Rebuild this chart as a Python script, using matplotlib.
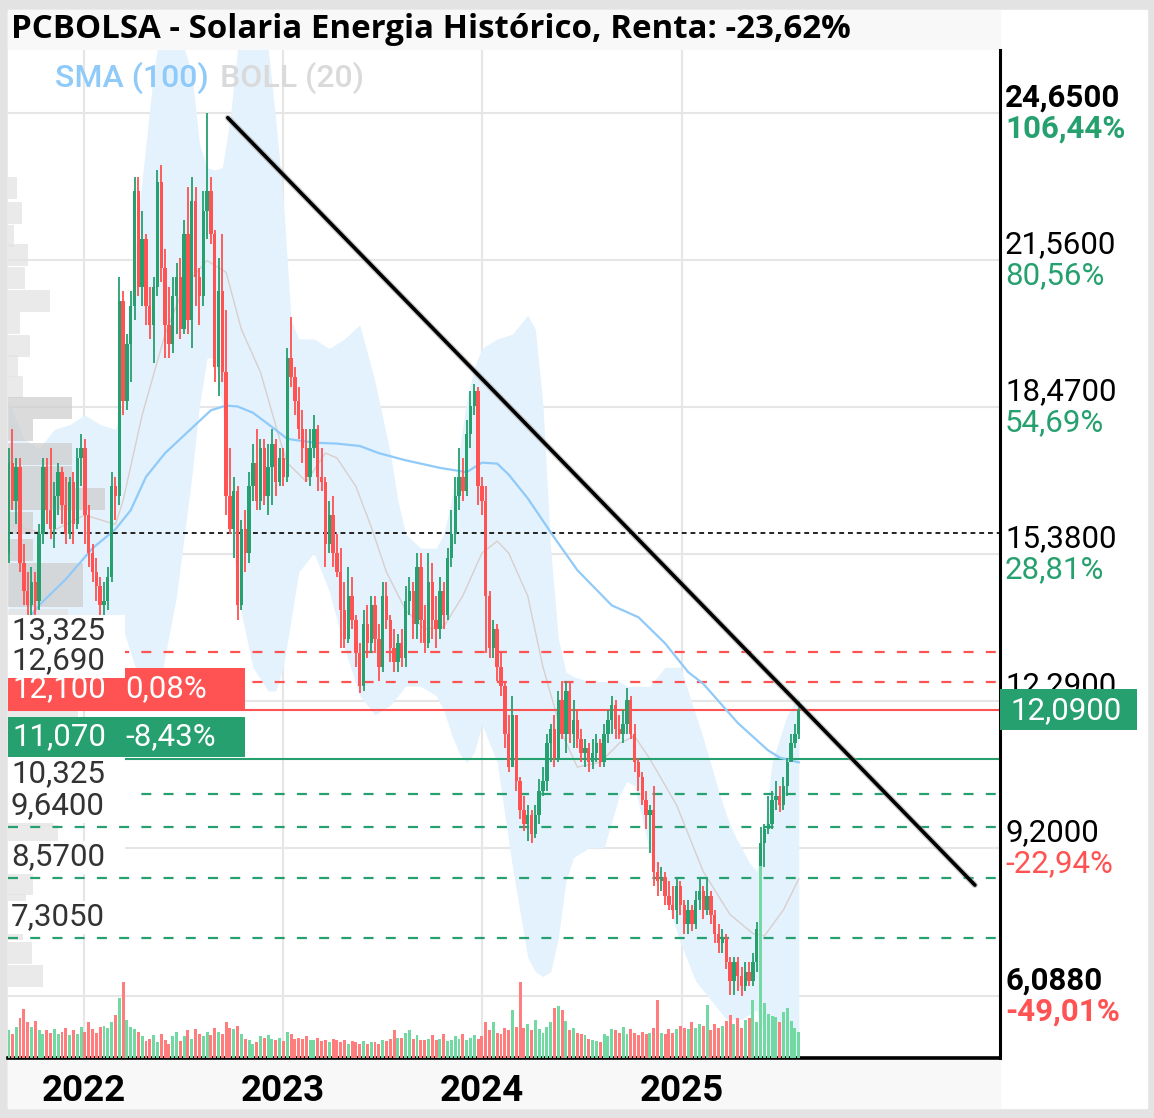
import matplotlib
matplotlib.use("Agg")
import matplotlib.pyplot as plt
import matplotlib.dates as mdates
from matplotlib.patches import Rectangle
import pandas as pd

W, H, DPI = 1154, 1118, 100

GREEN = "#26a06f"
RED = "#ff5252"
VOL_GREEN = "#72d9a2"
VOL_RED = "#ff7d7d"
BAND_BLUE = "#e3f2fd"
SMA_BLUE = "#90caf9"
MID_GREY = "#d9cfcc"
GRID = "#e6e6e6"

TITLE = "PCBOLSA - Solaria Energia Histórico, Renta: -23,62%"
FIRST_WEEK = "2021-08-16"

# weekly OHLC, Aug 2021 .. Aug 2025
opens = [
    15.4, 17.3, 16.5, 17.2, 15.2, 14.6, 14.3, 14.8, 14.4, 15.8,
    17.2, 16.3, 15.9, 16.6, 17.1, 16.4, 15.8, 16.9, 16.0, 17.4,
    17.6, 16.2, 15.4, 15.0, 14.7, 14.3, 14.4, 14.9, 16.8, 16.6,
    20.7, 18.6, 19.8, 20.6, 23.0, 21.0, 22.0, 20.6, 20.2, 21.0,
    23.2, 21.4, 20.2, 19.8, 20.8, 21.2, 20.1, 22.1, 20.3, 22.8,
    21.2, 20.8, 22.6, 23.0, 22.1, 19.3, 20.9, 19.2, 16.6, 15.9,
    16.7, 14.3, 15.9, 15.4, 16.8, 17.3, 16.5, 17.6, 16.6, 17.2,
    17.7, 16.9, 17.4, 17.0, 19.5, 19.1, 18.6, 18.0, 17.6, 17.0,
    17.6, 18.0, 17.0, 16.9, 15.6, 16.2, 15.4, 15.0, 14.2, 13.6,
    14.5, 14.0, 13.3, 12.6, 13.9, 13.5, 14.3, 13.6, 13.0, 14.5,
    14.0, 13.4, 13.1, 13.5, 13.2, 14.4, 14.6, 13.9, 15.1, 14.0,
    13.5, 14.8, 14.0, 13.8, 14.6, 14.1, 15.3, 15.8, 16.6, 17.0,
    16.7, 17.9, 18.5, 18.8, 16.8, 16.5, 14.5, 13.4, 13.8, 13.0,
    12.6, 11.6, 10.9, 12.0, 10.6, 10.0, 9.7, 9.9, 9.5, 9.9,
    10.4, 10.6, 11.4, 11.7, 11.1, 12.3, 11.6, 12.5, 11.6, 11.9,
    11.5, 11.2, 11.3, 11.0, 11.2, 11.4, 11.0, 11.6, 11.9, 12.2,
    11.7, 11.6, 11.8, 12.3, 11.6, 11.0, 10.7, 10.2, 9.9, 10.0,
    8.7, 8.5, 8.6, 8.2, 8.0, 7.9, 8.4, 8.0, 7.6, 7.9,
    7.6, 8.1, 8.3, 7.9, 8.2, 7.8, 7.4, 7.2, 7.3, 6.8,
    6.4, 6.8, 6.5, 6.3, 6.6, 6.4, 6.8, 7.5, 9.3, 9.6,
    9.7, 10.2, 10.3, 10.1, 10.5, 11.0, 11.4, 11.6,
]
highs = [
    17.6, 18.0, 17.4, 17.4, 15.6, 15.0, 15.1, 15.0, 16.0, 17.4,
    17.4, 17.6, 16.9, 17.3, 17.2, 17.0, 17.0, 17.1, 17.6, 17.9,
    17.8, 16.4, 15.6, 15.3, 14.9, 14.8, 15.1, 17.1, 17.0, 21.2,
    20.9, 20.0, 20.9, 23.3, 23.3, 22.6, 22.1, 21.0, 21.2, 23.45,
    23.56, 21.8, 21.0, 21.2, 21.5, 21.6, 22.4, 23.1, 23.3, 23.1,
    21.4, 23.0, 24.65, 23.3, 22.2, 21.6, 22.1, 20.5, 17.6, 17.0,
    16.8, 16.1, 16.3, 17.1, 17.7, 18.0, 17.8, 17.8, 17.7, 18.0,
    17.8, 17.6, 17.6, 19.7, 20.36, 19.3, 18.9, 18.4, 18.0, 18.0,
    18.3, 18.1, 17.6, 17.0, 16.5, 16.6, 15.8, 15.5, 14.8, 15.1,
    14.9, 14.1, 13.5, 14.2, 14.3, 14.5, 14.5, 13.9, 14.8, 14.8,
    14.1, 13.8, 13.7, 13.8, 14.7, 14.9, 14.8, 15.4, 15.4, 14.3,
    15.4, 15.2, 14.5, 14.9, 14.8, 15.5, 16.3, 17.0, 17.6, 17.4,
    18.2, 18.8, 18.95, 18.9, 17.0, 16.8, 14.6, 14.0, 13.9, 13.3,
    12.7, 12.0, 12.4, 12.0, 10.7, 10.3, 10.1, 10.0, 10.1, 10.65,
    10.9, 11.6, 11.8, 12.0, 12.5, 12.7, 12.7, 12.7, 12.3, 12.1,
    11.7, 11.5, 11.4, 11.5, 11.6, 11.5, 11.8, 12.1, 12.4, 12.3,
    12.0, 12.1, 12.56, 12.4, 11.8, 11.1, 10.8, 10.4, 10.1, 10.5,
    8.9, 8.8, 8.7, 8.5, 8.4, 8.6, 8.5, 8.1, 8.1, 8.0,
    8.3, 8.6, 8.4, 8.6, 8.3, 7.9, 7.6, 7.5, 7.4, 6.9,
    6.9, 6.9, 6.7, 6.8, 6.8, 7.0, 7.65, 9.64, 9.7, 10.3,
    10.4, 10.6, 10.5, 10.7, 11.1, 11.6, 11.8, 12.29,
]
lows = [
    15.2, 16.3, 16.0, 15.0, 14.3, 14.1, 14.1, 14.1, 14.2, 15.6,
    16.0, 15.7, 15.5, 16.2, 16.0, 15.6, 15.7, 15.6, 15.9, 16.8,
    15.6, 15.1, 14.8, 14.4, 14.1, 14.0, 14.2, 14.8, 16.1, 16.4,
    18.3, 18.4, 19.0, 20.3, 20.8, 20.6, 20.2, 19.9, 19.4, 20.8,
    21.1, 19.5, 19.5, 19.6, 20.0, 19.9, 20.0, 20.0, 19.7, 20.6,
    20.2, 20.6, 22.0, 21.9, 19.0, 18.7, 19.0, 16.2, 15.8, 15.3,
    14.0, 14.2, 15.0, 15.2, 16.5, 16.3, 16.3, 16.4, 16.2, 16.4,
    16.6, 16.8, 16.8, 16.9, 18.9, 18.3, 17.8, 17.3, 16.9, 16.8,
    17.4, 16.7, 16.7, 15.1, 15.4, 15.1, 14.9, 13.4, 13.4, 13.5,
    13.8, 13.0, 12.45, 12.5, 13.2, 13.3, 13.3, 12.7, 12.9, 13.8,
    13.1, 12.9, 12.9, 13.0, 13.0, 14.1, 13.6, 13.6, 13.5, 13.3,
    13.4, 13.6, 13.4, 13.6, 13.8, 14.0, 15.1, 15.6, 16.3, 16.5,
    16.6, 17.6, 18.3, 16.4, 16.2, 13.3, 13.2, 13.2, 12.7, 12.4,
    11.3, 10.8, 10.9, 10.4, 9.8, 9.55, 9.35, 9.3, 9.4, 9.7,
    10.3, 10.4, 11.0, 10.9, 11.0, 11.5, 11.2, 11.4, 11.3, 11.3,
    11.0, 10.9, 10.8, 10.85, 11.0, 10.9, 10.9, 11.4, 11.6, 11.5,
    11.5, 11.4, 11.6, 11.5, 10.8, 10.4, 10.1, 9.6, 9.1, 8.4,
    8.2, 8.3, 8.0, 7.9, 7.7, 7.6, 7.8, 7.4, 7.4, 7.45,
    7.5, 7.9, 7.7, 7.8, 7.6, 7.2, 7.0, 7.0, 6.65, 6.1,
    6.1, 6.2, 6.09, 6.2, 6.3, 6.3, 6.6, 7.3, 8.8, 9.5,
    9.6, 10.0, 9.95, 10.0, 10.3, 11.0, 11.3, 11.5,
]
closes = [
    17.3, 16.5, 17.2, 15.2, 14.6, 14.3, 14.8, 14.4, 15.8, 17.2,
    16.3, 15.9, 16.6, 17.1, 16.4, 15.8, 16.9, 16.0, 17.4, 17.6,
    16.2, 15.4, 15.0, 14.7, 14.3, 14.4, 14.9, 16.8, 16.6, 20.7,
    18.6, 19.8, 20.6, 23.0, 21.0, 22.0, 20.6, 20.2, 21.0, 23.2,
    21.4, 20.2, 19.8, 20.8, 21.2, 20.1, 22.1, 20.3, 22.8, 21.2,
    20.8, 22.6, 23.0, 22.1, 19.3, 20.9, 19.2, 16.6, 15.9, 16.7,
    14.3, 15.9, 15.4, 16.8, 17.3, 16.5, 17.6, 16.6, 17.2, 17.7,
    16.9, 17.4, 17.0, 19.5, 19.1, 18.6, 18.0, 17.6, 17.0, 17.6,
    18.0, 17.0, 16.9, 15.6, 16.2, 15.4, 15.0, 14.2, 13.6, 14.5,
    14.0, 13.3, 12.6, 13.9, 13.5, 14.3, 13.6, 13.0, 14.5, 14.0,
    13.4, 13.1, 13.5, 13.2, 14.4, 14.6, 13.9, 15.1, 14.0, 13.5,
    14.8, 14.0, 13.8, 14.6, 14.1, 15.3, 15.8, 16.6, 17.0, 16.7,
    17.9, 18.5, 18.8, 16.8, 16.5, 14.5, 13.4, 13.8, 13.0, 12.6,
    11.6, 10.9, 12.0, 10.6, 10.0, 9.7, 9.9, 9.5, 9.9, 10.4,
    10.6, 11.4, 11.7, 11.1, 12.3, 11.6, 12.5, 11.6, 11.9, 11.5,
    11.2, 11.3, 11.0, 11.2, 11.4, 11.0, 11.6, 11.9, 12.2, 11.7,
    11.6, 11.8, 12.3, 11.6, 11.0, 10.7, 10.2, 9.9, 10.0, 8.7,
    8.5, 8.6, 8.2, 8.0, 7.9, 8.4, 8.0, 7.6, 7.9, 7.6,
    8.1, 8.3, 7.9, 8.2, 7.8, 7.4, 7.2, 7.3, 6.8, 6.4,
    6.8, 6.5, 6.3, 6.6, 6.4, 6.8, 7.5, 9.3, 9.6, 9.7,
    10.2, 10.3, 10.1, 10.5, 11.0, 11.4, 11.6, 12.09,
]
volumes = [
    2.3, 2.0, 2.6, 3.3, 4.1, 3.0, 2.6, 3.1, 2.3, 2.0, 2.3, 2.1, 2.4,
    2.0, 2.2, 2.5, 1.9, 2.3, 2.0, 2.6, 2.2, 3.0, 2.4, 2.1, 2.6, 2.7,
    2.5, 3.0, 3.6, 5.0, 6.3, 3.2, 2.6, 2.4, 2.2, 1.8, 1.4, 1.6, 1.9,
    1.3, 2.0, 1.5, 1.2, 1.8, 2.2, 1.4, 1.8, 2.3, 1.6, 2.4, 2.0, 1.8,
    2.2, 1.9, 2.5, 2.2, 2.0, 3.0, 2.5, 2.4, 2.7, 2.0, 1.6, 1.5, 1.2,
    1.3, 1.8, 1.7, 1.9, 1.6, 1.5, 1.7, 1.4, 2.2, 2.0, 1.6, 1.7, 1.6,
    1.8, 1.5, 1.5, 1.7, 1.4, 1.5, 1.3, 1.6, 1.5, 1.3, 1.5, 1.2, 1.4,
    1.3, 1.2, 1.4, 1.2, 1.3, 1.3, 1.2, 1.5, 1.4, 1.6, 2.3, 1.7, 1.7,
    2.1, 2.3, 1.6, 1.9, 1.5, 1.5, 1.6, 1.9, 1.5, 1.6, 2.0, 1.4, 1.5,
    1.8, 1.6, 2.0, 1.5, 1.7, 1.9, 1.6, 1.8, 3.0, 2.3, 3.0, 2.1, 2.0,
    2.5, 2.3, 4.0, 2.6, 6.3, 2.5, 2.8, 2.3, 3.2, 2.4, 2.1, 2.6, 3.0,
    4.2, 4.3, 4.0, 3.1, 2.3, 2.5, 2.1, 2.0, 1.9, 1.6, 1.5, 1.4, 1.3,
    2.0, 1.8, 2.4, 2.3, 2.1, 2.6, 2.0, 2.4, 2.1, 1.9, 2.2, 2.0, 2.1,
    2.5, 4.8, 2.1, 2.0, 2.4, 2.1, 2.4, 2.7, 2.5, 2.4, 3.0, 2.5, 2.8,
    2.7, 4.4, 2.3, 2.8, 2.5, 2.7, 3.1, 3.6, 2.8, 3.3, 2.5, 3.2, 3.3,
    4.8, 3.0, 16.0, 4.6, 3.7, 3.5, 3.4, 3.0, 3.8, 4.2, 3.1, 2.5, 2.2,
]

# SMA(100) read at these week indexes
sma_weeks = [0, 6, 8, 15, 22, 28, 32, 36, 41, 47, 53, 57, 60, 64, 69, 73, 80,
             86, 92, 97, 104, 113, 120, 124, 128, 131, 136, 143, 149, 158,
             165, 172, 178, 182, 191, 199, 202, 207]
sma_vals = [13.6, 14.1, 14.3, 14.85, 15.5, 15.9, 16.3, 17.0, 17.5, 17.95,
            18.4, 18.5, 18.48, 18.35, 18.05, 17.8, 17.72, 17.7, 17.65, 17.5,
            17.35, 17.19, 17.1, 17.3, 17.28, 17.05, 16.55, 15.72, 15.04, 14.3,
            14.05, 13.5, 12.9, 12.65, 11.83, 11.25, 11.1, 11.0]

# BOLL(20) bands read at these week indexes
band_weeks = [0, 4, 8, 12, 16, 20, 24, 28, 30, 32, 34, 36, 38, 40, 44, 48, 50,
              52, 54, 56, 58, 60, 64, 68, 70, 72, 74, 76, 80, 84, 88, 92, 96,
              100, 102, 104, 108, 112, 114, 116, 118, 120, 122, 124, 128, 132,
              136, 138, 140, 142, 144, 146, 148, 152, 156, 160, 162, 164, 168,
              172, 176, 180, 182, 186, 188, 190, 192, 194, 196, 198, 200, 204,
              207]
band_upper = [18.6, 17.8, 17.6, 18.0, 18.1, 18.3, 18.1, 18.0, 18.6, 20.5,
              22.5, 24.0, 25.5, 26.5, 26.5, 25.5, 24.0, 23.5, 23.45, 23.5,
              24.5, 26.0, 26.5, 26.0, 24.5, 22.8, 20.3, 19.9, 19.9, 19.7,
              19.9, 20.2, 19.0, 17.5, 16.5, 15.8, 15.5, 15.5, 15.8, 16.5,
              17.5, 18.6, 19.3, 19.7, 19.9, 20.0, 20.4, 20.1, 18.5, 15.5,
              13.6, 12.9, 12.8, 12.7, 12.7, 12.7, 12.6, 12.6, 12.6, 13.0,
              13.0, 12.0, 11.5, 10.4, 9.9, 9.5, 9.2, 8.9, 8.7, 9.6,
              11.0, 12.0, 12.4]
band_lower = [14.0, 13.8, 13.6, 13.8, 14.0, 13.9, 13.7, 13.9, 13.8, 13.3,
              12.8, 12.5, 12.5, 12.8, 14.5, 17.0, 18.5, 19.5, 19.5, 18.5,
              16.5, 14.5, 13.0, 12.5, 12.5, 13.0, 14.0, 15.0, 15.4, 14.6,
              13.4, 12.4, 12.0, 12.2, 12.4, 12.6, 12.6, 12.4, 12.1, 11.6,
              11.2, 11.0, 11.2, 11.8, 11.0, 8.8, 6.9, 6.6, 6.5, 6.6,
              7.3, 8.5, 9.0, 9.2, 9.2, 10.3, 10.6, 10.5, 9.1, 8.2,
              7.2, 6.4, 6.2, 5.8, 5.6, 5.6, 5.6, 5.7, 5.8, 5.2,
              4.6, 4.6, 4.7]
mid_weeks = [0, 10, 20, 28, 30, 35, 41, 46, 52, 57, 61, 66, 71, 73, 78, 83, 86,
             91, 95, 99, 104, 109, 114, 119, 124, 128, 131, 136, 140, 145, 149,
             155, 160, 164, 168, 175, 182, 189, 195, 198, 203, 207]
mid_vals = [16.0, 15.8, 16.2, 16.0, 16.5, 18.3, 20.0, 21.0, 21.55, 21.3, 20.1,
            19.2, 17.8, 17.3, 16.9, 17.5, 17.4, 16.8, 15.95, 15.0, 14.2, 13.8,
            13.85, 14.5, 15.4, 15.65, 15.4, 14.5, 13.0, 11.6, 10.9, 11.0, 11.4,
            11.55, 11.07, 10.1, 8.7, 7.8, 7.4, 7.35, 7.9, 8.55]

# volume-by-price profile on the left edge
profile_prices = [23.07, 22.55, 22.06, 21.67, 21.18, 20.70, 20.24, 19.75, 19.33,
                  18.89, 18.45, 17.99, 17.48, 17.00, 16.54, 16.03, 15.46, 14.96,
                  14.50, 14.00, 13.50, 13.00, 12.50, 12.00, 11.45, 10.90, 10.40,
                  9.90, 9.45, 8.95, 8.45, 8.00, 7.50, 7.00, 6.50]
profile_vols = [9, 14, 6, 20, 17, 42, 12, 22, 10, 15, 64, 25, 64, 64, 97, 25, 25,
                75, 75, 60, 50, 55, 60, 70, 65, 60, 55, 45, 50, 20, 25, 18, 15,
                24, 35]

# right-hand price scale
scale_prices = [24.65, 21.56, 18.47, 15.38, 12.29, 9.20, 6.088]
scale_labels = ["24,6500", "21,5600", "18,4700", "15,3800", "12,2900", "9,2000", "6,0880"]
scale_pcts = ["106,44%", "80,56%", "54,69%", "28,81%", "", "-22,94%", "-49,01%"]
scale_bold = [True, False, False, False, False, False, True]

years = ["2022", "2023", "2024", "2025"]

# horizontal levels
red_levels = [13.325, 12.69]
green_levels = [10.325, 9.64, 8.57, 7.305]
level_labels = {13.325: "13,325", 12.69: "12,690", 10.325: "10,325",
                9.64: "9,6400", 8.57: "8,5700", 7.305: "7,3050"}
resist_level, resist_text, resist_pct = 12.10, "12,100", "0,08%"
support_level, support_text, support_pct = 11.07, "11,070", "-8,43%"
base_level = 15.83
last_price, last_text = 12.09, "12,0900"

trend_dates = ["2022-09-22", "2026-06-23"]
trend_prices = [24.55, 8.42]

YMIN, YMAX = 4.785, 25.974
XMIN, XMAX = "2021-08-15", "2026-08-08"
LABEL_FS = 22.5


def fx(px):
    return px / W


def fy(py):
    return 1 - py / H


fig = plt.figure(figsize=(W / DPI, H / DPI), dpi=DPI, facecolor="#e3e3e3")
fig.add_artist(Rectangle((fx(8), fy(1108)), fx(1139), (1098) / H,
                         transform=fig.transFigure, color="white", zorder=-10))
fig.add_artist(Rectangle((fx(8), fy(50)), fx(992), 40 / H,
                         transform=fig.transFigure, color="#f8f8f8", zorder=-9))
fig.add_artist(Rectangle((fx(8), fy(1108)), fx(992), 50 / H,
                         transform=fig.transFigure, color="#f8f8f8", zorder=-9))
fig.text(fx(11), fy(29), TITLE, fontsize=23.8, fontweight="bold",
         family="Open Sans", va="center", ha="left", color="black")

ax = fig.add_axes([fx(8), fy(1058), fx(992), 1008 / H])
ax.set_facecolor("white")
px_per_unit = 1008 / (YMAX - YMIN)

dates = pd.date_range(FIRST_WEEK, periods=len(closes), freq="7D")
xs = mdates.date2num(dates)
assert len(opens) == len(highs) == len(lows) == len(closes) == len(volumes)

ax.set_xlim(mdates.date2num(pd.Timestamp(XMIN)), mdates.date2num(pd.Timestamp(XMAX)))
ax.set_ylim(YMIN, YMAX)

# grid
year_x = mdates.date2num([pd.Timestamp(f"{y}-01-01") for y in years])
ax.set_xticks(year_x)
ax.set_xticklabels(years, fontsize=26.5, fontweight="bold", family="Roboto")
ax.tick_params(axis="x", length=0, pad=11)
ax.set_yticks(scale_prices)
ax.set_yticklabels([])
ax.tick_params(axis="y", length=0)
ax.grid(True, color=GRID, lw=1.5, zorder=0)
ax.set_axisbelow(True)
for side in ["left", "top"]:
    ax.spines[side].set_visible(False)
ax.spines["right"].set_color("black")
ax.spines["right"].set_linewidth(2.2)
ax.spines["bottom"].set_color("black")
ax.spines["bottom"].set_linewidth(2.6)

# bollinger bands
bx = xs[band_weeks]
ax.fill_between(bx, band_lower, band_upper, color=BAND_BLUE, lw=0, zorder=1)
ax.plot(xs[mid_weeks], mid_vals, color=MID_GREY, lw=1.0, zorder=1.5)

# volume profile
prof_w = [v / 992 for v in profile_vols]
prof_colors = ["#cfcfcf" if 14.3 <= p <= 18.6 else "#e3e3e3" for p in profile_prices]
ax.barh(profile_prices, prof_w, height=0.46, left=0, color=prof_colors, alpha=0.75,
        transform=ax.get_yaxis_transform(), zorder=1.2, lw=0)

# SMA
ax.plot(xs[sma_weeks], sma_vals, color=SMA_BLUE, lw=1.6, zorder=2.5)

# levels
ax.axhline(base_level, color="#222222", lw=1.4, ls=(0, (2.5, 2)), zorder=2)
for lv in red_levels:
    ax.axhline(lv, color=RED, lw=1.6, ls=(0, (4.5, 5.5)), zorder=2)
for lv in green_levels:
    ax.axhline(lv, color=GREEN, lw=1.6, ls=(0, (4.5, 5.5)), zorder=2)
ax.axhline(resist_level, color=RED, lw=1.5, zorder=2)
ax.axhline(support_level, color=GREEN, lw=1.5, zorder=2)

# candles
colors = [GREEN if c >= o else RED for o, c in zip(opens, closes)]
ax.vlines(xs, lows, highs, colors=colors, lw=1.3, zorder=3)
bottoms = [min(o, c) for o, c in zip(opens, closes)]
heights = [max(abs(c - o), 0.06) for o, c in zip(opens, closes)]
ax.bar(xs, heights, bottom=bottoms, width=6.2, color=colors, lw=0, zorder=3)

# trend line
tx = mdates.date2num([pd.Timestamp(d) for d in trend_dates])
ax.plot(tx, trend_prices, color="#9a9a9a", lw=4.4, alpha=0.5, zorder=5,
        solid_capstyle="round")
ax.plot(tx, trend_prices, color="black", lw=2.6, zorder=5.1, solid_capstyle="round")

# legend text
ax.text(47 / 992, (1058 - 78) / 1008, "SMA (100)", transform=ax.transAxes,
        color=SMA_BLUE, fontsize=23, fontweight="medium", family="Roboto",
        va="center", ha="left", zorder=8)
ax.text(212 / 992, (1058 - 78) / 1008, "BOLL (20)", transform=ax.transAxes,
        color="#dadada", fontsize=23, fontweight="medium", family="Roboto",
        va="center", ha="left", zorder=8)

ytr = ax.get_yaxis_transform()

# left coloured boxes
box_h = 42 / px_per_unit
ax.add_patch(Rectangle((0, resist_level), 237 / 992, box_h, transform=ytr,
                       color=RED, zorder=6, lw=0))
ax.add_patch(Rectangle((0, support_level + 2 / px_per_unit), 237 / 992, 40 / px_per_unit,
                       transform=ytr, color=GREEN, zorder=6, lw=0))
for lv, t1, t2, hh in [(resist_level, resist_text, resist_pct, box_h),
                       (support_level + 2 / px_per_unit, support_text, support_pct,
                        40 / px_per_unit)]:
    ax.text(4 / 992, lv + hh / 2, t1, transform=ytr, color="white", fontsize=LABEL_FS,
            family="Roboto", va="center", ha="left", zorder=7)
    ax.text(117 / 992, lv + hh / 2, t2, transform=ytr, color="white", fontsize=LABEL_FS,
            family="Roboto", va="center", ha="left", zorder=7)

# left level labels on white boxes
for lv in red_levels + green_levels:
    right = 132 if lv == 9.64 else 117
    ax.add_patch(Rectangle((0, lv + 4 / px_per_unit), right / 992, 33 / px_per_unit,
                           transform=ytr, color="white", zorder=6.5, lw=0))
    ax.text(3 / 992, lv + 21 / px_per_unit, level_labels[lv], transform=ytr,
            color="#333333", fontsize=LABEL_FS, family="Roboto", va="center",
            ha="left", zorder=7)

# right price scale
for p, lab, pct, bold in zip(scale_prices, scale_labels, scale_pcts, scale_bold):
    wt = "bold" if bold else "normal"
    ax.text(1 + 5 / 992, p + 15 / px_per_unit, lab, transform=ytr, color="black",
            fontsize=LABEL_FS, fontweight=wt, family="Roboto", va="center", ha="left",
            clip_on=False, zorder=7)
    if pct:
        col = RED if pct.startswith("-") else GREEN
        ax.text(1 + 5 / 992, p - 16 / px_per_unit, pct, transform=ytr, color=col,
                fontsize=LABEL_FS, fontweight=wt, family="Roboto", va="center",
                ha="left", clip_on=False, zorder=7)

ax.add_patch(Rectangle((1, last_price - 20 / px_per_unit), 137 / 992, 41 / px_per_unit,
                       transform=ytr, color=GREEN, zorder=8, lw=0, clip_on=False))
ax.text(1 + 10 / 992, last_price, last_text, transform=ytr, color="white",
        fontsize=LABEL_FS, family="Roboto", va="center", ha="left", clip_on=False,
        zorder=9)

# volume (1 unit = 12 px)
axv = ax.twinx()
axv.set_ylim(0, 84)
axv.set_axis_off()
vcol = [VOL_GREEN if c >= o else VOL_RED for o, c in zip(opens, closes)]
axv.bar(xs, volumes, width=5.4, color=vcol, lw=0)
axv.set_xlim(ax.get_xlim())

fig.savefig("out.png", dpi=DPI, facecolor=fig.get_facecolor())
